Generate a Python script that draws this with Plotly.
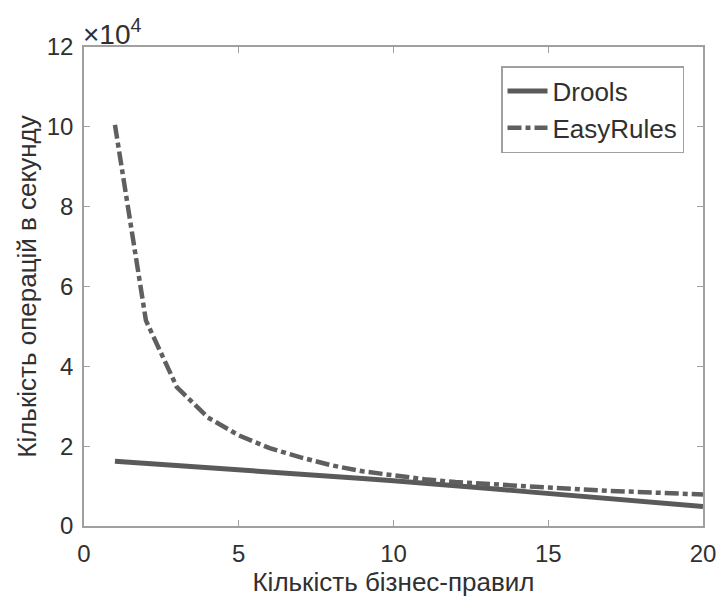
import plotly.graph_objects as go

rules = list(range(1, 21))
drools = [1.62, 1.57, 1.52, 1.465, 1.41, 1.355, 1.30, 1.245, 1.19, 1.135,
          1.08, 1.02, 0.945, 0.88, 0.815, 0.75, 0.685, 0.62, 0.555, 0.49]
easyrules = [10.05, 5.15, 3.48, 2.72, 2.27, 1.95, 1.72, 1.52, 1.37, 1.26,
             1.17, 1.10, 1.05, 1.00, 0.96, 0.92, 0.88, 0.85, 0.82, 0.79]
scale = 1e4
drools_vals = [v * scale for v in drools]
easy_vals = [v * scale for v in easyrules]

x_ticks = [0, 5, 10, 15, 20]
y_ticks = [0, 2, 4, 6, 8, 10, 12]
y_tick_labels = [str(t) for t in y_ticks]

FONT = "Liberation Sans, Arial, sans-serif"
TXT = "#303030"
AX = "#a0a0a0"

fig = go.Figure()
fig.add_trace(go.Scatter(x=rules, y=drools_vals, mode="lines", name="Drools",
                         line=dict(color="#5a5a5a", width=5)))
fig.add_trace(go.Scatter(x=rules, y=easy_vals, mode="lines", name="EasyRules",
                         line=dict(color="#5f5f5f", width=4.5, dash="14px,4px,5px,4px")))

axis_common = dict(showline=True, linecolor=AX, linewidth=1.5, mirror="allticks",
                   ticks="inside", ticklen=6, tickcolor=AX, tickwidth=1,
                   showgrid=False, zeroline=False, automargin=False,
                   ticklabeloverflow="allow",
                   tickfont=dict(family=FONT, size=24, color=TXT))

fig.update_xaxes(range=[0, 20], tickvals=x_ticks, ticklabelstandoff=5,
                 title=dict(text="Кількість бізнес-правил", standoff=6,
                            font=dict(family=FONT, size=26, color=TXT)),
                 **axis_common)
fig.update_yaxes(range=[0, 12 * scale], tickvals=[t * scale for t in y_ticks],
                 ticktext=y_tick_labels, ticklabelstandoff=4,
                 title=dict(text="Кількість операцій в секунду", standoff=3,
                            font=dict(family=FONT, size=26, color=TXT)),
                 **axis_common)

fig.add_annotation(x=0, y=1, xref="paper", yref="paper", xanchor="left", yanchor="bottom",
                   text="×10<sup>4</sup>", showarrow=False, xshift=-3, yshift=-5,
                   font=dict(family=FONT, size=28, color=TXT))

fig.update_layout(
    width=717, height=598,
    margin=dict(l=84, r=14, t=47, b=72),
    paper_bgcolor="white", plot_bgcolor="white",
    font=dict(family=FONT, color=TXT),
    legend=dict(x=(684 - 84) / (703 - 84), y=0.96, xanchor="right", yanchor="top",
                bordercolor=AX, borderwidth=1.5, bgcolor="white",
                font=dict(family=FONT, size=26, color=TXT),
                tracegroupgap=0, itemwidth=40),
    showlegend=True,
)

fig.write_html("out.html",
               config={"displayModeBar": False},
               post_script="document.body.style.margin='0';document.body.style.overflow='hidden';")
